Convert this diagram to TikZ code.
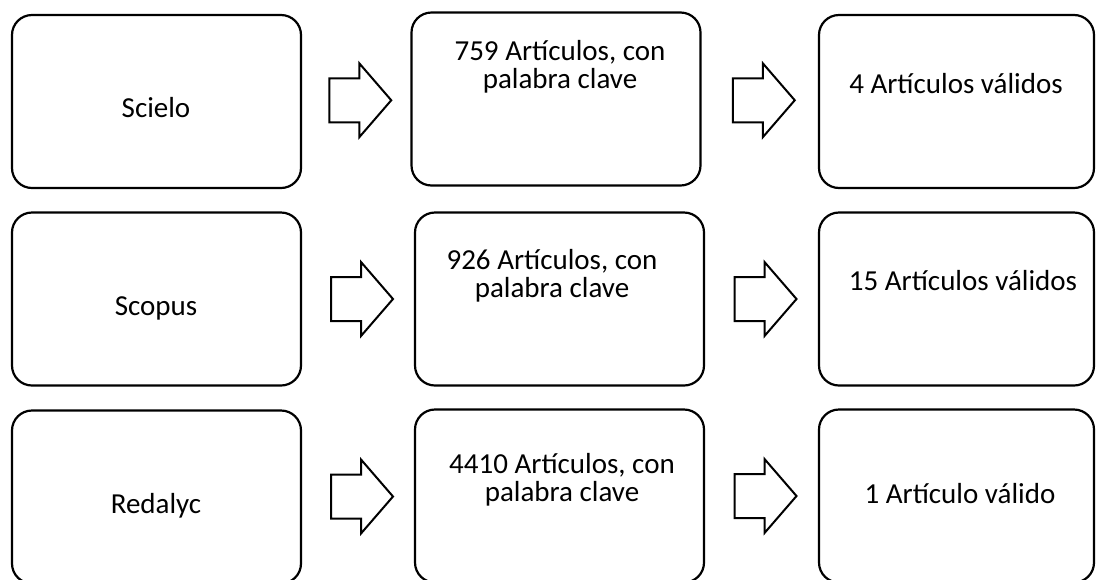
\documentclass[tikz,border=0pt]{standalone}
\usepackage{fontspec}
\setmainfont{Carlito}
\usetikzlibrary{calc}

\newcommand{\fatarrow}[2]{%
  \draw[fat] ($(#1.east)!.5!(#2.west)$) ++(-27,-22) -- ++(30,0) -- ++(0,-15)
    -- ++(32,37) -- ++(-32,37) -- ++(0,-15) -- ++(-30,0) -- cycle;}

\begin{document}
\begin{tikzpicture}[x=0.5pt, y=-0.5pt,
  card/.style={draw, line width=1.1pt, rounded corners=10pt, inner sep=0pt,
    minimum width=144.5pt, minimum height=86.5pt},
  narrow/.style={minimum width=137.5pt},
  txt/.style={inner sep=0pt, anchor=base, align=center,
    font=\fontsize{14.5}{13.75}\selectfont},
  fat/.style={draw, line width=1pt, fill=white}]
  \useasboundingbox (0,0) rectangle (1096,579);

  \node[card] (scielo) at (156.5,101.5) {};
  \node[card] (scielo-kw) at (556,99) {};
  \node[card,narrow] (scielo-ok) at (956.5,101.5) {};

  \node[card] (scopus) at (156.5,299) {};
  \node[card] (scopus-kw) at (559.5,299) {};
  \node[card,narrow] (scopus-ok) at (956.5,299) {};

  \node[card] (redalyc) at (156.5,497) {};
  \node[card] (redalyc-kw) at (559.5,496) {};
  \node[card,narrow] (redalyc-ok) at (956.5,496) {};

  \node[txt] (scielo-t) at (156,117) {Scielo};
  \node[txt] (scielo-kw-t) at (560,88) {759 Artículos, con\\palabra clave};
  \node[txt] (scielo-ok-t) at (956,93) {4 Artículos válidos};

  \node[txt] (scopus-t) at (156,315) {Scopus};
  \node[txt] (scopus-kw-t) at (552,297) {926 Artículos, con\\palabra clave};
  \node[txt] (scopus-ok-t) at (963,290) {15 Artículos válidos};

  \node[txt] (redalyc-t) at (156,513) {Redalyc};
  \node[txt] (redalyc-kw-t) at (562,501) {4410 Artículos, con\\palabra clave};
  \node[txt] (redalyc-ok-t) at (960,503) {1 Artículo válido};

  \fatarrow{scielo}{scielo-kw}
  \fatarrow{scielo-kw}{scielo-ok}
  \fatarrow{scopus}{scopus-kw}
  \fatarrow{scopus-kw}{scopus-ok}
  \fatarrow{redalyc}{redalyc-kw}
  \fatarrow{redalyc-kw}{redalyc-ok}
\end{tikzpicture}
\end{document}
